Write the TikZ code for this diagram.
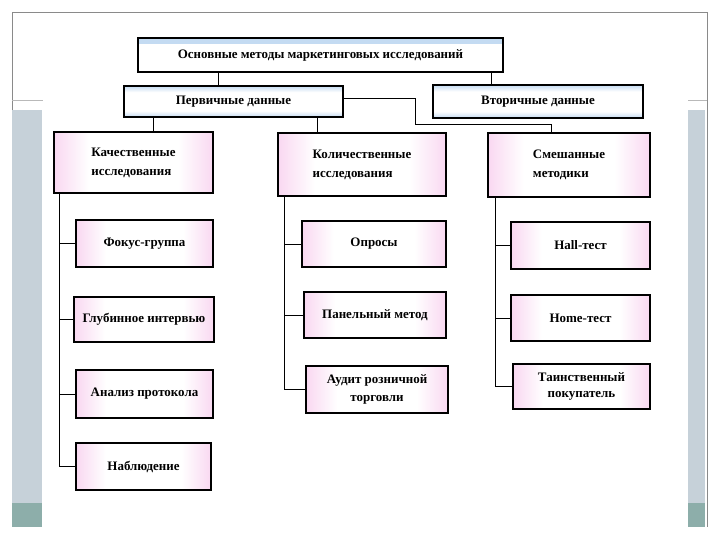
\documentclass[tikz,border=0pt]{standalone}
\usepackage{fontspec}
\setmainfont{Liberation Serif}
\usetikzlibrary{positioning}

\definecolor{boxpink}{HTML}{F9D8F1}
\definecolor{boxblue}{HTML}{C4DBF2}
\definecolor{slidebar}{HTML}{C6D1D9}
\definecolor{slidefoot}{HTML}{8DAEAA}
\definecolor{framegray}{HTML}{8A8A8A}

\pgfdeclarehorizontalshading{pinkglow}{100bp}{color(0bp)=(boxpink); color(25bp)=(boxpink); color(36bp)=(white); color(64bp)=(white); color(75bp)=(boxpink); color(100bp)=(boxpink)}
\pgfdeclareverticalshading{blueband}{100bp}{color(0bp)=(boxblue); color(25bp)=(boxblue); color(35bp)=(white); color(65bp)=(white); color(75bp)=(boxblue); color(100bp)=(boxblue)}

\tikzset{
    every node/.style={font=\fontsize{13}{19}\selectfont\bfseries},
    pinkbox/.style={draw, line width=1.2pt, shade, shading=pinkglow, inner sep=0pt, align=center},
    bluebox/.style={draw, line width=1.2pt, shade, shading=blueband, inner sep=0pt, align=center},
    link/.style={line width=0.9pt}
}

\begin{document}
\begin{tikzpicture}[x=1bp, y=-1bp]
        % Define dimensions
        \def\slidew{720}
        \def\slideh{540}
        \useasboundingbox (0,0) rectangle (\slidew,\slideh);
        % Slide decoration
        \fill[slidebar] (12,110) rectangle (42,503);
        \fill[slidefoot] (12,503) rectangle (42,527);
        \fill[slidebar] (688,110) rectangle (705,503);
        \fill[slidefoot] (688,503) rectangle (705,527);
        \draw[framegray, line width=1pt] (12,110) -- (12,13) -- (707,13) -- (707,527);
        \draw[framegray!60, line width=0.8pt] (12,100) -- (43,100);
        \draw[framegray!60, line width=0.8pt] (688,100) -- (707,100);

        % Top levels
        \node[draw, line width=1.2pt, fill=white, minimum width=365bp, minimum height=34bp,
              path picture={\fill[boxblue] (path picture bounding box.north west) rectangle ([yshift=-6bp]path picture bounding box.north east);}]
              (top) at (320.5,55) {Основные методы маркетинговых исследований};
        \node[bluebox, minimum width=219bp, minimum height=31bp] (prim) at (233.5,101.5) {Первичные данные};
        \node[bluebox, minimum width=210bp, minimum height=33bp] (sec) at (538,101.5) {Вторичные данные};

        % Groups of methods
        \node[pinkbox, align=left, minimum width=159bp, minimum height=61bp] (qual) at (133.5,162.5) {Качественные\\исследования};
        \node[pinkbox, align=left, minimum width=168bp, minimum height=63bp] (quant) at (362,164.5) {Количественные\\исследования};
        \node[pinkbox, align=left, minimum width=162bp, minimum height=64bp] (mixed) at (569,165) {Смешанные\\методики};

        % Qualitative methods
        \node[pinkbox, minimum width=137bp, minimum height=47bp] (focus) at (144.5,243.5) {Фокус-группа};
        \node[pinkbox, minimum width=140bp, minimum height=45bp] (deep) at (144,319.5) {Глубинное интервью};
        \node[pinkbox, minimum width=137bp, minimum height=48bp] (proto) at (144.5,394) {Анализ протокола};
        \node[pinkbox, minimum width=135bp, minimum height=47bp] (obs) at (143.5,466.5) {Наблюдение};

        % Quantitative methods
        \node[pinkbox, minimum width=144bp, minimum height=46bp] (polls) at (374,244) {Опросы};
        \node[pinkbox, minimum width=142bp, minimum height=46bp] (panel) at (375,315) {Панельный метод};
        \node[pinkbox, minimum width=142bp, minimum height=47bp, font=\fontsize{13}{18}\selectfont\bfseries] (audit) at (377,389.5) {Аудит розничной\\торговли};

        % Mixed methods
        \node[pinkbox, minimum width=139bp, minimum height=47bp] (hall) at (580.5,245.5) {Hall-тест};
        \node[pinkbox, minimum width=139bp, minimum height=46bp] (home) at (580.5,318) {Home-тест};
        \node[pinkbox, minimum width=137bp, minimum height=45bp, font=\fontsize{13}{16}\selectfont\bfseries] (mystery) at (581.5,386.5) {Таинственный\\покупатель};

        % Connectors
        \draw[link] ([xshift=-15.5bp]prim.north) -- ([xshift=-15.5bp]prim.north |- top.south);
        \draw[link] ([xshift=-47bp]sec.north) -- ([xshift=-47bp]sec.north |- top.south);
        \draw[link] ([xshift=19.5bp]qual.north) -- ([xshift=19.5bp]qual.north |- prim.south);
        \draw[link] ([xshift=-45bp]quant.north) -- ([xshift=-45bp]quant.north |- prim.south);
        \coordinate (bend) at (415,124);
        \draw[link] ([yshift=3bp]prim.east) -| (bend) -| ([xshift=-18bp]mixed.north);
        \foreach \c in {focus,deep,proto,obs}
            \draw[link] ([xshift=6bp]qual.south west) |- (\c.west);
        \foreach \c in {polls,panel,audit}
            \draw[link] ([xshift=7bp]quant.south west) |- (\c.west);
        \foreach \c in {hall,home,mystery}
            \draw[link] ([xshift=8bp]mixed.south west) |- (\c.west);
    \end{tikzpicture}
\end{document}
